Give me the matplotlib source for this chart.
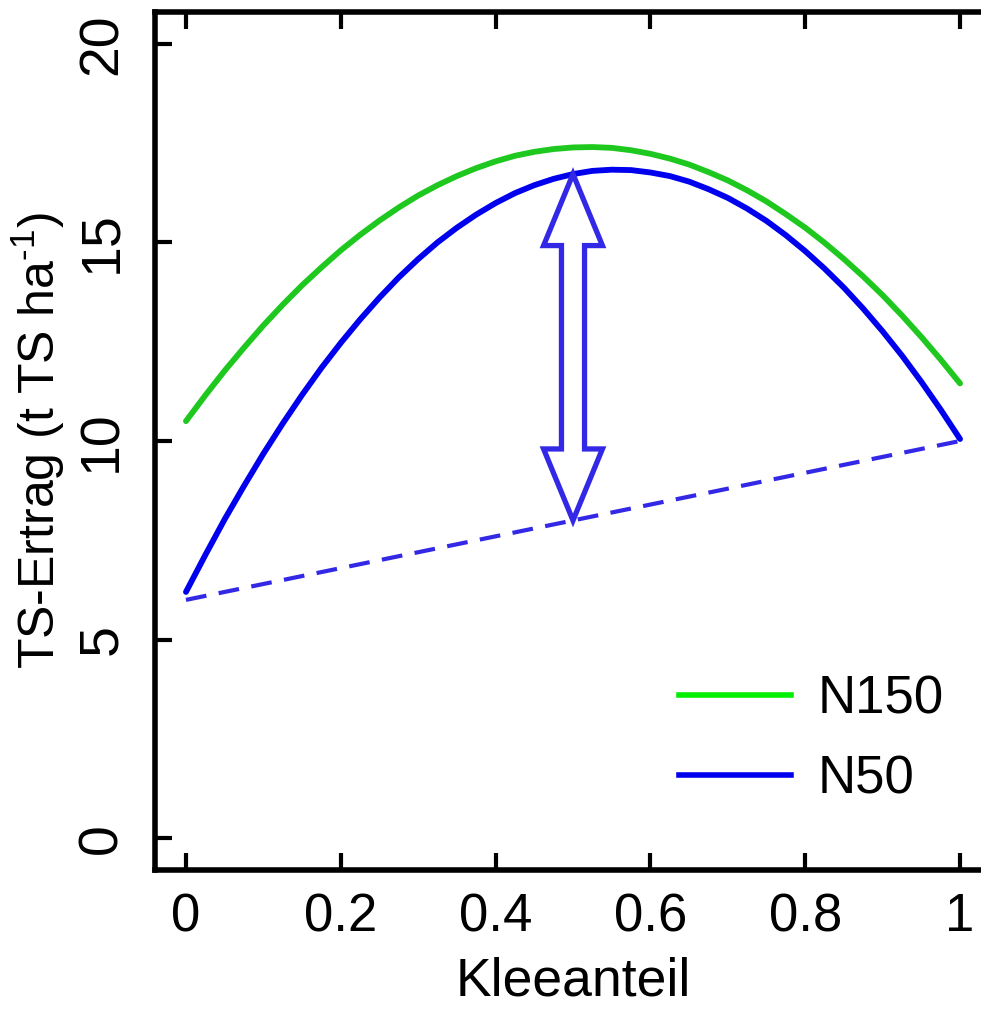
import numpy as np
import matplotlib
matplotlib.use("Agg")
import matplotlib.pyplot as plt
from matplotlib.lines import Line2D
from matplotlib.patches import Polygon

plt.rcParams['font.family'] = ['Liberation Sans', 'DejaVu Sans']
plt.rcParams['mathtext.fontset'] = 'custom'
plt.rcParams['mathtext.rm'] = 'Liberation Sans'
plt.rcParams['mathtext.it'] = 'Liberation Sans:italic'

# Kleeanteil (share of clover) and dry matter yield, t TS/ha
klee = [0.000, 0.025, 0.050, 0.075, 0.100, 0.125, 0.150, 0.175, 0.200, 0.225,
        0.250, 0.275, 0.300, 0.325, 0.350, 0.375, 0.400, 0.425, 0.450, 0.475,
        0.500, 0.525, 0.550, 0.575, 0.600, 0.625, 0.650, 0.675, 0.700, 0.725,
        0.750, 0.775, 0.800, 0.825, 0.850, 0.875, 0.900, 0.925, 0.950, 0.975,
        1.000]
n150 = [10.50, 11.15, 11.77, 12.35, 12.91, 13.43, 13.92, 14.37, 14.80, 15.19,
        15.55, 15.88, 16.18, 16.44, 16.67, 16.87, 17.04, 17.18, 17.28, 17.35,
        17.39, 17.40, 17.38, 17.32, 17.23, 17.11, 16.96, 16.77, 16.56, 16.31,
        16.03, 15.71, 15.37, 14.99, 14.58, 14.14, 13.67, 13.16, 12.62, 12.05,
        11.45]
n50 = [6.20, 7.13, 8.03, 8.87, 9.68, 10.44, 11.16, 11.84, 12.47, 13.06,
       13.61, 14.12, 14.58, 15.00, 15.37, 15.70, 15.99, 16.24, 16.44, 16.60,
       16.72, 16.80, 16.83, 16.82, 16.76, 16.67, 16.53, 16.34, 16.12, 15.85,
       15.54, 15.18, 14.78, 14.34, 13.86, 13.33, 12.76, 12.15, 11.49, 10.79,
       10.05]

# linear mix of the two pure stands (N50)
mix_x = [0.0, 1.0]
mix_y = [6.0, 10.0]

arrow_x = 0.5

green = '#1ec81e'
blue = '#0000ee'
violet = '#3328e6'

fig = plt.figure(figsize=(9.81, 10.11), dpi=100)
ax = fig.add_axes([155 / 981, 141 / 1011, 836 / 981, 858 / 1011])

ax.plot(klee, n150, color=green, lw=4.2, solid_capstyle='round')
ax.plot(klee, n50, color=blue, lw=4.2, solid_capstyle='round')
ax.plot(mix_x, mix_y, color=violet, lw=3, dashes=(5, 3))

# double headed hollow arrow between the mix line and the N50 curve
y_lo = np.interp(arrow_x, mix_x, mix_y)
y_hi = np.interp(arrow_x, klee, n50)
hw, sw, hl = 0.038, 0.0149, 1.8
pts = [(arrow_x, y_hi),
       (arrow_x + hw, y_hi - hl), (arrow_x + sw, y_hi - hl),
       (arrow_x + sw, y_lo + hl), (arrow_x + hw, y_lo + hl),
       (arrow_x, y_lo),
       (arrow_x - hw, y_lo + hl), (arrow_x - sw, y_lo + hl),
       (arrow_x - sw, y_hi - hl), (arrow_x - hw, y_hi - hl)]
ax.add_patch(Polygon(pts, closed=True, facecolor='white', edgecolor=violet,
                     lw=3.8, joinstyle='miter', zorder=3))

ax.set_xlim(-0.04, 1.04)
ax.set_ylim(-0.8, 20.8)
ax.set_xticks([0, 0.2, 0.4, 0.6, 0.8, 1])
ax.set_xticklabels(['0', '0.2', '0.4', '0.6', '0.8', '1'])
ax.set_yticks([0, 5, 10, 15, 20])
for s in ax.spines.values():
    s.set_linewidth(4)
ax.tick_params(axis='x', direction='in', length=12, width=3, top=True,
               labelsize=38, pad=16)
ax.tick_params(axis='y', direction='in', length=12, width=3,
               labelsize=40, pad=19)
for lab in ax.get_yticklabels():
    lab.set_rotation(90)
    lab.set_va('center')

ax.set_xlabel('Kleeanteil', fontsize=38.5, labelpad=10)
ax.set_ylabel(r'TS-Ertrag (t TS ha$^{\text{-1}}$)', fontsize=36, labelpad=7)

handles = [Line2D([], [], color='#00ee00', lw=4),
           Line2D([], [], color=blue, lw=4)]
ax.legend(handles, ['N150', 'N50'], loc='upper left',
          bbox_to_anchor=(679 / 981, 1 - 674 / 1011), bbox_transform=fig.transFigure,
          frameon=False, fontsize=38, handlelength=2.12, handletextpad=0.5,
          labelspacing=0.58, borderaxespad=0, borderpad=0)

fig.savefig('out.png', dpi=100)
